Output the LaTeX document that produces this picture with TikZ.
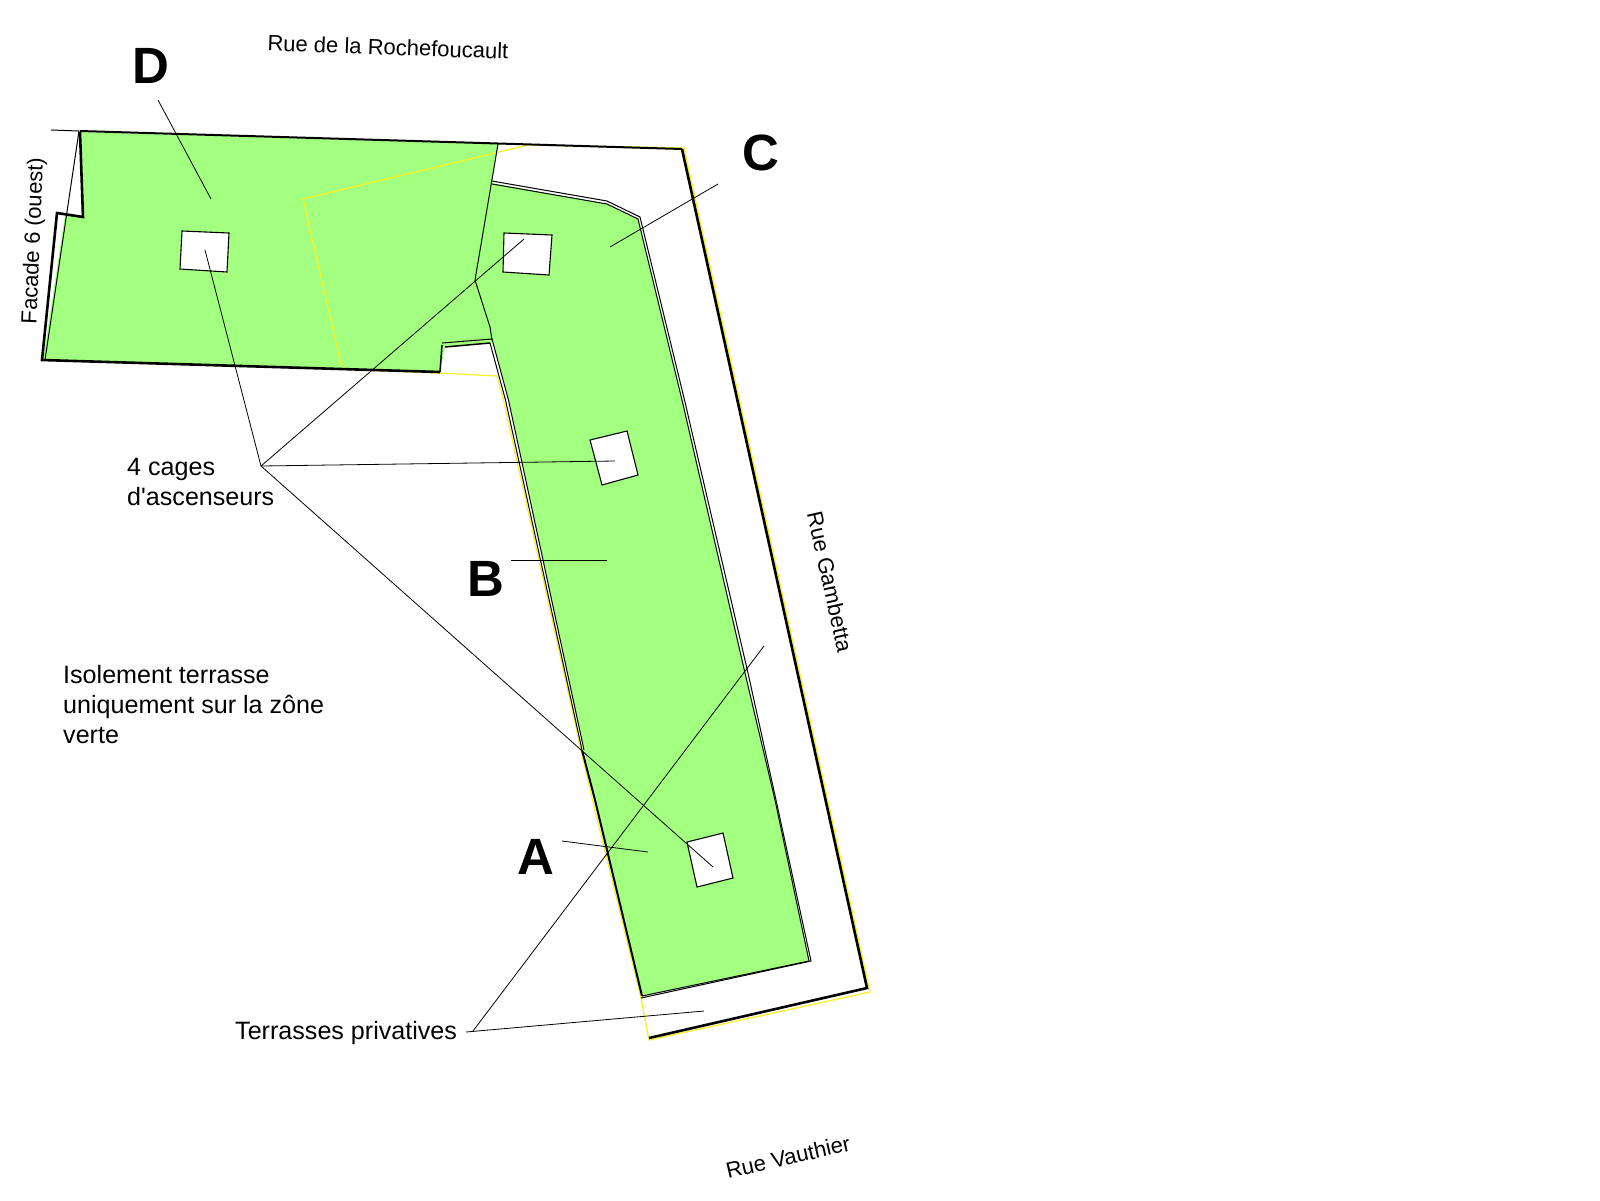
\documentclass[tikz,border=0pt]{standalone}
\usepackage{fontspec}
\setmainfont{Liberation Sans}
\newfontfamily\plainface{Liberation Sans}
\definecolor{zone}{HTML}{A3FF7F}
\definecolor{jaune}{HTML}{F8F028}
\tikzset{
  zonefill/.style={fill=zone,draw=none},
  thick line/.style={draw=black,line width=2.6pt,line join=miter},
  mid line/.style={draw=black,line width=1.5pt},
  thin line/.style={draw=black,line width=1pt},
  yellow line/.style={draw=jaune,line width=1.3pt},
  leader/.style={draw=black,line width=0.8pt},
  lift/.style={fill=white,draw=black,line width=1.1pt},
  big/.style={font=\fontsize{51}{51}\selectfont\bfseries,inner sep=0pt},
  small/.style={font=\fontsize{22}{22}\selectfont,inner sep=0pt},
  body/.style={font=\fontsize{25.1}{30}\selectfont,inner sep=0pt,align=left,anchor=north west},
}
\begin{document}
\begin{tikzpicture}[x=1pt,y=-1pt]
\useasboundingbox (0,0) rectangle (1600,1200);
\fill[white] (0,0) rectangle (1600,1200);
% green zone
\path[zonefill] (80,132) -- (498,144) -- (492,183) -- (607,204) -- (638,219) -- (682,400) -- (745,673) -- (775,800) -- (809,961) -- (642,996) -- (595,800) -- (584,750) -- (509,400) -- (493,343) -- (445,347) -- (440,372) -- (43,360) -- (65,215) -- (83,217) -- cycle;
% yellow lines
\draw[yellow line] (528,145) -- (684,148) -- (870,992) -- (649,1040) -- (641,998) -- (593,802) -- (581,750) -- (503.5,400) -- (497,376) -- (440,373) -- (342,369) -- (303,199) -- (528,145);
% outlines
\draw[thick line] (80,132) -- (83,217) -- (57,213) -- (42,360) -- (440,372);
\draw[mid line] (440,372) -- (442,345);
\draw[thick line,line width=2pt] (80,131) -- (682,149);
\draw[thick line] (682,149) -- (867,988) -- (649,1038);
\draw[thin line] (51,130) -- (79,131) -- (45,360);
\draw[thin line] (498,144) -- (475,280) -- (490,327) -- (492,340);
\draw[thin line] (442,343) -- (492,339) -- (508.5,400) -- (584,750);
\draw[mid line] (445,347) -- (490,343);
\draw[thin line] (490,343) -- (505.5,400) -- (582,750);
\draw[thick line,line width=2pt] (582,750) -- (595,800) -- (642,996);
\draw[thin line] (492,181) -- (607,201) -- (640,217) -- (684.5,400) -- (748,673) -- (776,800) -- (811,961) -- (641,998);
\draw[thin line] (492,184) -- (607,204) -- (638,219) -- (682,400) -- (745,673) -- (775,800) -- (809,961) -- (642,996);
% lifts
\draw[lift] (182,231) -- (229,233) -- (227,272) -- (180,269) -- cycle;
\draw[lift] (504,233) -- (552,235) -- (549,275) -- (503,272) -- cycle;
\draw[lift] (590,440) -- (627,431) -- (638,475) -- (602,485) -- cycle;
\draw[lift] (687,842) -- (723,833) -- (733,878) -- (697,887) -- cycle;
% labels
\node[big] (labD) at (151,66) {D};
\node[big] (labC) at (761,153) {C};
\node[big] (labB) at (486,579) {B};
\node[big] (labA) at (536,857) {A};
\node[small,rotate=-2] (rue1) at (388,47) {Rue de la Rochefoucault};
\node[small,rotate=87.7] (fac) at (34,241) {Facade 6 (ouest)};
\node[small,rotate=-77.5] (rue2) at (830,582) {Rue Gambetta};
\node[small,rotate=13] (rue3) at (788,1157) {Rue Vauthier};
\node[body] (cages) at (127,458) {4 cages\\d{\plainface'}ascenseurs};
\node[body] (iso) at (63,665) {Isolement terrasse\\uniquement sur la zône\\verte};
\node[body] (terr) at (235,1021) {Terrasses privatives};
% leaders
\coordinate (hubL) at (261,466);
\coordinate (hubT) at (466,1032);
\coordinate (hubTa) at (473,1031);
\coordinate (liftD) at (205,250);
\coordinate (liftC) at (524,239);
\coordinate (liftB) at (615,461);
\coordinate (liftA) at (713,867);
\coordinate (zoneD1) at (158,100);
\coordinate (zoneD2) at (211,199);
\coordinate (zoneC1) at (718,184);
\coordinate (zoneC2) at (610,247);
\coordinate (zoneB1) at (511,560);
\coordinate (zoneB2) at (607,560);
\coordinate (zoneA1) at (562,841);
\coordinate (zoneA2) at (648,852);
\coordinate (terA) at (764,646);
\coordinate (terB) at (704,1011);
\draw[leader] (liftD) -- (hubL);
\draw[leader] (liftC) -- (hubL);
\draw[leader] (liftB) -- (hubL);
\draw[leader] (liftA) -- (hubL);
\draw[leader] (zoneD1) -- (zoneD2);
\draw[leader] (zoneC1) -- (zoneC2);
\draw[leader] (zoneB1) -- (zoneB2);
\draw[leader] (zoneA1) -- (zoneA2);
\draw[leader] (terA) -- (hubTa);
\draw[leader] (terB) -- (hubT);
\end{tikzpicture}
\end{document}
